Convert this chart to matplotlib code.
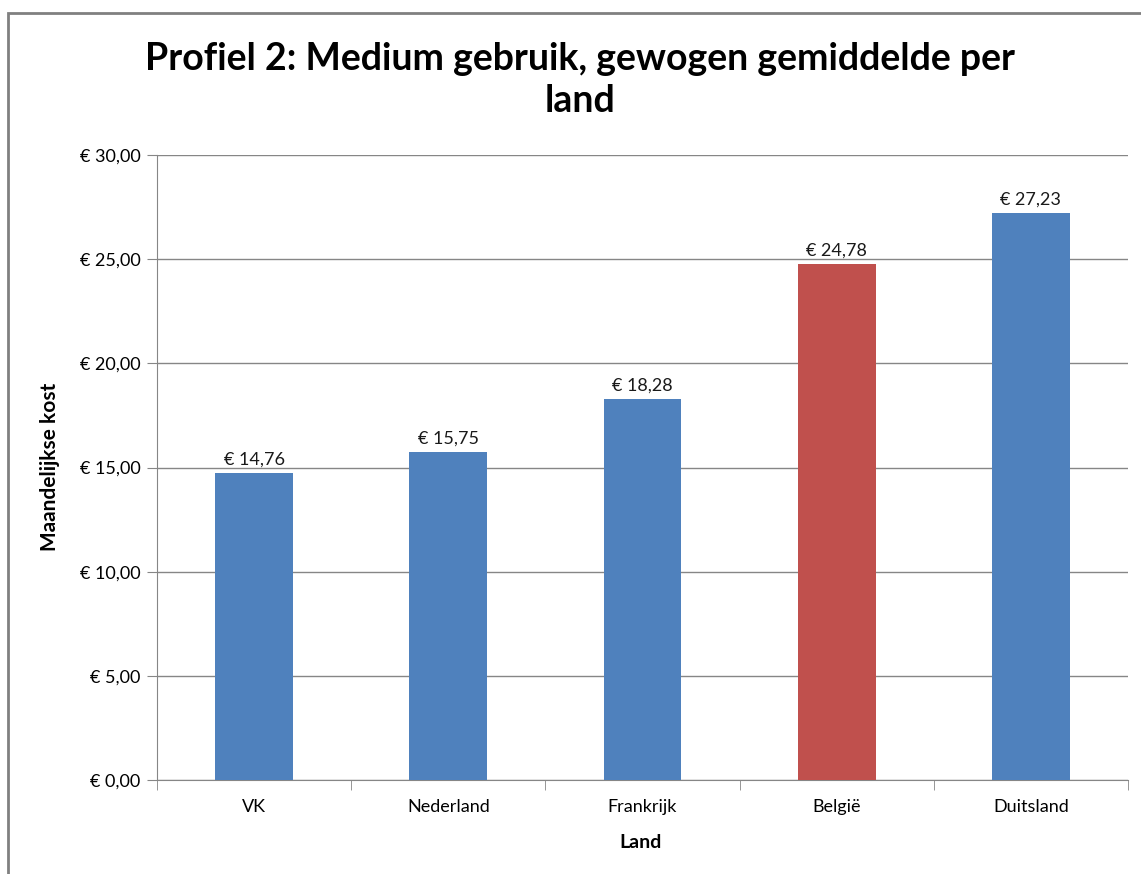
import matplotlib
matplotlib.use("Agg")
import matplotlib.pyplot as plt
from matplotlib.patches import Rectangle

plt.rcParams['font.family'] = ['Lato', 'DejaVu Sans']

# data
landen = ['VK', 'Nederland', 'Frankrijk', 'België', 'Duitsland']
kosten = [14.76, 15.75, 18.28, 24.78, 27.23]
kleuren = ['#4F81BD', '#4F81BD', '#4F81BD', '#C0504D', '#4F81BD']
y_ticks = [0, 5, 10, 15, 20, 25, 30]


def euro(v):
    return '€ ' + f'{v:.2f}'.replace('.', ',')


W, H = 1141, 874
fig = plt.figure(figsize=(W / 100, H / 100), dpi=100)
ax = fig.add_axes([157 / W, 94 / H, 971 / W, 625 / H])

# outer chart border (cropped on right/bottom in the original)
fig.patches.append(Rectangle((8 / W, -0.05), 1.2, 1 - 13 / H + 0.05,
                             transform=fig.transFigure, fill=False,
                             edgecolor='#808080', linewidth=2))

x = range(len(landen))
bars = ax.bar(x, kosten, width=0.4, color=kleuren, zorder=3)
for b, v in zip(bars, kosten):
    ax.text(b.get_x() + b.get_width() / 2, v + 0.25, euro(v),
            ha='center', va='bottom', fontsize=13, color='#1a1a1a')

ax.set_xlim(-0.5, len(landen) - 0.5)
ax.set_ylim(0, 30)
ax.set_yticks(y_ticks)
ax.set_yticklabels([euro(v) for v in y_ticks], fontsize=13)
ax.set_xticks(list(x))
ax.set_xticklabels(landen, fontsize=13)
ax.set_xticks([i - 0.5 for i in range(len(landen) + 1)], minor=True)
ax.tick_params(axis='x', which='major', length=0, pad=14)
ax.tick_params(axis='x', which='minor', length=7, color='#868686')
ax.tick_params(axis='y', length=7, color='#868686', pad=5)

ax.grid(axis='y', color='#868686', linewidth=1, zorder=0)
for s in ['top', 'right']:
    ax.spines[s].set_visible(False)
for s in ['left', 'bottom']:
    ax.spines[s].set_color('#868686')

fig.text(50 / W, 1 - 467 / H, 'Maandelijkse kost', rotation=90,
         ha='center', va='center', fontsize=15, fontweight='bold')
fig.text(641 / W, 1 - 842 / H, 'Land', ha='center', va='center',
         fontsize=14, fontweight='bold')

fig.text(580 / W, 1 - 80 / H, 'Profiel 2: Medium gebruik, gewogen gemiddelde per\nland',
         ha='center', va='center', fontsize=27, fontweight='bold', linespacing=1.3)

fig.savefig('out.png', dpi=100)
